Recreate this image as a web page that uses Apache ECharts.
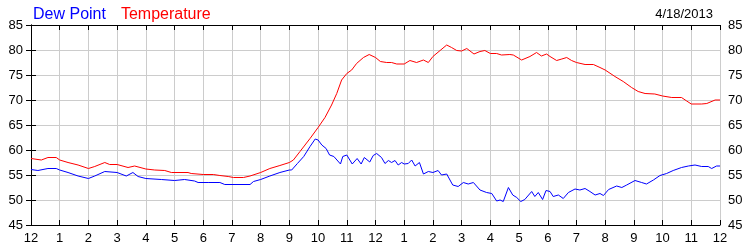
<!DOCTYPE html>
<html>
<head>
<meta charset="utf-8">
<script src="https://cdn.jsdelivr.net/npm/echarts@6/dist/echarts.min.js"></script>
<style>html,body{margin:0;padding:0;background:#fff}#c{width:750px;height:250px}</style>
</head>
<body>
<div id="c"></div>
<script>
// hours since midnight, 4/18/2013
var tempHours = [0,0.36,0.59,0.88,1.0,1.29,1.64,2.0,2.22,2.57,2.74,3.0,3.38,3.61,4.0,4.31,4.66,4.89,5.47,5.58,6.0,6.35,6.58,6.87,7.05,7.40,7.63,8.0,8.32,8.67,9.0,9.14,9.37,9.72,10.0,10.24,10.47,10.65,10.82,11.0,11.17,11.34,11.58,11.78,12.0,12.17,12.39,12.56,12.74,13.0,13.2,13.43,13.67,13.84,14.0,14.25,14.48,14.65,14.83,15.0,15.18,15.43,15.64,15.81,16.0,16.22,16.39,16.68,16.8,17.09,17.38,17.61,17.78,17.96,18.08,18.31,18.49,18.66,18.83,19.0,19.3,19.59,19.82,20.0,20.34,20.63,20.92,21.15,21.39,21.73,22.0,22.32,22.66,22.84,23.0,23.36,23.54,23.83,24.0];
var tempValues = [58.3,58.0,58.5,58.5,58.0,57.5,57.0,56.3,56.7,57.5,57.1,57.1,56.5,56.8,56.2,56.0,55.9,55.5,55.5,55.3,55.1,55.1,54.9,54.7,54.5,54.5,54.8,55.5,56.3,56.9,57.5,58.0,59.7,62.3,64.5,66.5,69.0,71.3,74.0,75.3,76.0,77.3,78.5,79.1,78.5,77.7,77.5,77.5,77.2,77.2,77.9,77.5,78.0,77.5,78.7,79.9,81.0,80.5,79.9,79.8,80.3,79.2,79.7,79.9,79.3,79.3,79.0,79.1,79.0,78.0,78.7,79.5,78.8,79.2,78.7,77.9,78.2,78.5,77.9,77.5,77.1,77.1,76.5,76.0,74.7,73.7,72.5,71.7,71.3,71.2,70.8,70.5,70.5,69.8,69.2,69.2,69.3,70.0,70.0];
var dewHours = [0,0.24,0.59,0.88,1.0,1.29,1.64,2.0,2.22,2.57,3.0,3.32,3.55,3.73,4.0,4.54,5.0,5.35,5.70,5.82,6.17,6.58,6.75,7.63,7.75,8.0,8.32,8.67,9.0,9.08,9.28,9.5,9.72,9.9,10.0,10.13,10.28,10.4,10.55,10.78,10.86,11.0,11.19,11.36,11.5,11.61,11.8,11.92,12.04,12.21,12.33,12.45,12.56,12.68,12.79,12.91,13.0,13.14,13.26,13.38,13.53,13.67,13.84,14.0,14.18,14.3,14.48,14.69,14.88,15.06,15.23,15.41,15.64,15.87,16.05,16.22,16.34,16.45,16.63,16.78,16.92,17.06,17.2,17.44,17.55,17.67,17.82,17.94,18.08,18.19,18.37,18.54,18.72,18.95,19.12,19.3,19.47,19.65,19.82,19.94,20.12,20.4,20.58,20.75,21.04,21.27,21.44,21.68,21.91,22.14,22.37,22.66,22.9,23.13,23.36,23.59,23.71,23.88,24.0];
var dewValues = [56.1,55.9,56.3,56.3,56.0,55.5,54.8,54.3,54.8,55.7,55.5,54.8,55.5,54.7,54.3,54.1,53.9,54.1,53.8,53.5,53.5,53.5,53.1,53.1,53.7,54.1,54.8,55.5,56.0,56.0,57.3,58.7,60.7,62.2,62.0,61.0,60.3,59.0,58.7,57.2,58.7,59.0,57.2,58.3,57.2,58.5,57.6,58.9,59.3,58.5,57.3,57.9,57.5,57.9,57.0,57.5,57.2,57.3,58.0,56.8,57.5,55.2,55.7,55.5,55.9,55.0,55.2,53.0,52.7,53.5,53.2,53.5,52.0,51.5,51.3,49.8,50.0,49.7,52.5,51.0,50.5,49.7,50.1,51.7,50.7,51.5,50.1,51.9,51.7,50.7,51.0,50.3,51.5,52.2,52.0,52.3,51.7,51.0,51.3,50.9,52.1,52.8,52.5,53.0,53.9,53.5,53.2,54.0,54.9,55.3,55.9,56.5,56.8,57.0,56.7,56.7,56.3,56.8,56.8];
var yTicks = [45,50,55,60,65,70,75,80,85];
var dateLabel = '4/18/2013';

function pairs(xs, ys){ return xs.map(function(x,i){ return [x, ys[i]]; }); }
function hourLabel(v){ var h = Math.round(v) % 12; return String(h === 0 ? 12 : h); }

var FONT = '"Liberation Sans", Arial, sans-serif';
var chart = echarts.init(document.getElementById('c'), null, {renderer:'canvas'});
var gridLine = {show:true, lineStyle:{color:'#cccccc', width:1}};
var blackLine = {show:true, lineStyle:{color:'#000', width:1}};
chart.setOption({
  animation:false,
  backgroundColor:'#fff',
  textStyle:{fontFamily:FONT},
  title:{
    text:dateLabel, right:32, top:3,
    textStyle:{fontSize:13, fontWeight:'normal', color:'#000', fontFamily:FONT}
  },
  legend:{
    left:23, top:2, icon:'none', itemWidth:0, itemGap:10, selectedMode:false,
    textStyle:{fontSize:16, fontFamily:FONT},
    data:[{name:'Dew Point', textStyle:{color:'#0000ff'}},{name:'Temperature', textStyle:{color:'#ff0000'}}]
  },
  grid:{left:31, right:30, top:25, bottom:25},
  xAxis:[{
    type:'value', min:0, max:24, interval:1, position:'bottom',
    axisLine:blackLine, axisTick:{show:true, inside:true, length:5, lineStyle:{color:'#000'}},
    axisLabel:{formatter:hourLabel, color:'#000', fontSize:13, margin:7, fontFamily:FONT},
    splitLine:gridLine
  },{
    type:'value', min:0, max:24, interval:1, position:'top',
    axisLine:blackLine, axisTick:{show:true, inside:true, length:5, lineStyle:{color:'#000'}},
    axisLabel:{show:false}, splitLine:{show:false}
  }],
  yAxis:[{
    type:'value', min:yTicks[0], max:yTicks[yTicks.length-1], interval:5, position:'left',
    axisLine:blackLine, axisTick:{show:true, inside:true, length:5, lineStyle:{color:'#000'}},
    axisLabel:{color:'#000', fontSize:13, margin:8, fontFamily:FONT},
    splitLine:gridLine
  },{
    type:'value', min:yTicks[0], max:yTicks[yTicks.length-1], interval:5, position:'right',
    axisLine:blackLine, axisTick:{show:true, inside:true, length:5, lineStyle:{color:'#000'}},
    axisLabel:{color:'#000', fontSize:13, margin:8, fontFamily:FONT},
    splitLine:{show:false}
  }],
  series:[{
    name:'Dew Point', type:'line', data:pairs(dewHours, dewValues),
    showSymbol:false, symbol:'none', lineStyle:{color:'#0000ff', width:1}, itemStyle:{color:'#0000ff'}, z:3
  },{
    name:'Temperature', type:'line', data:pairs(tempHours, tempValues),
    showSymbol:false, symbol:'none', lineStyle:{color:'#ff0000', width:1}, itemStyle:{color:'#ff0000'}, z:3
  }]
});
</script>
</body>
</html>
